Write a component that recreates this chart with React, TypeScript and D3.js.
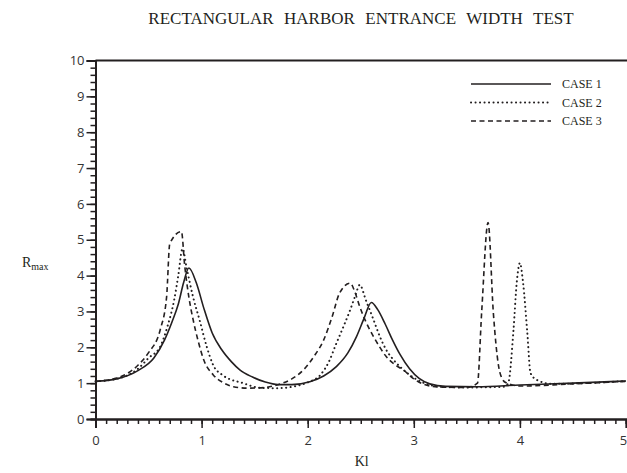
import React, { useEffect, useRef } from 'react'
import * as d3 from 'd3'

// Rmax against Kl for the three entrance widths
const case1: [number, number][] = [
  [0, 1.05], [0.2, 1.12], [0.4, 1.35], [0.55, 1.7], [0.65, 2.2], [0.72, 2.7], [0.78, 3.2],
  [0.83, 3.8], [0.88, 4.21], [0.95, 3.8], [1.02, 3.1], [1.1, 2.4], [1.19, 1.93], [1.28, 1.6],
  [1.36, 1.37], [1.48, 1.17], [1.6, 1.03], [1.72, 0.96], [1.85, 0.96], [2.02, 1.04], [2.15, 1.2],
  [2.27, 1.46], [2.38, 1.85], [2.46, 2.3], [2.53, 2.8], [2.6, 3.25], [2.66, 3.05], [2.73, 2.65],
  [2.8, 2.2], [2.87, 1.8], [2.96, 1.4], [3.05, 1.13], [3.15, 0.98], [3.3, 0.91], [3.6, 0.9],
  [4.0, 0.95], [4.5, 1.0], [5.0, 1.06]
]

const case2: [number, number][] = [
  [0, 1.05], [0.2, 1.12], [0.4, 1.4], [0.5, 1.7], [0.61, 2.02], [0.68, 2.6], [0.74, 3.3],
  [0.78, 4.0], [0.82, 4.75], [0.86, 4.2], [0.92, 3.4], [0.98, 2.77], [1.05, 2.0], [1.11, 1.5],
  [1.2, 1.22], [1.39, 1.0], [1.55, 0.87], [1.7, 0.86], [1.86, 0.9], [2.0, 1.02], [2.12, 1.23],
  [2.2, 1.6], [2.27, 2.11], [2.34, 2.6], [2.4, 3.04], [2.45, 3.45], [2.49, 3.74], [2.55, 3.3],
  [2.62, 2.77], [2.68, 2.3], [2.74, 1.93], [2.8, 1.68], [2.87, 1.46], [2.96, 1.23], [3.1, 1.0],
  [3.25, 0.9], [3.5, 0.88], [3.85, 0.9], [3.89, 1.0], [3.94, 2.5], [3.97, 3.8], [4.0, 4.35],
  [4.03, 3.8], [4.07, 2.4], [4.1, 1.28], [4.16, 1.09], [4.3, 0.98], [4.6, 1.0], [5.0, 1.06]
]

const case3: [number, number][] = [
  [0, 1.05], [0.2, 1.14], [0.4, 1.5], [0.5, 1.85], [0.61, 2.49], [0.67, 3.4], [0.7, 4.89],
  [0.81, 5.23], [0.84, 4.3], [0.88, 3.4], [0.92, 2.77], [0.97, 2.15], [1.02, 1.65], [1.11, 1.23],
  [1.2, 1.02], [1.3, 0.9], [1.44, 0.86], [1.6, 0.88], [1.71, 0.95], [1.85, 1.12], [1.96, 1.37],
  [2.06, 1.75], [2.15, 2.2], [2.23, 2.85], [2.3, 3.51], [2.4, 3.79], [2.45, 3.5], [2.49, 3.14],
  [2.55, 2.7], [2.62, 2.3], [2.68, 2.0], [2.74, 1.74], [2.82, 1.52], [2.9, 1.37], [3.0, 1.12],
  [3.1, 0.96], [3.25, 0.89], [3.5, 0.88], [3.6, 1.0], [3.64, 3.0], [3.7, 5.48], [3.75, 2.95],
  [3.8, 1.46], [3.83, 1.14], [3.87, 1.01], [4.0, 0.92], [4.5, 0.98], [5.0, 1.05]
]

const seriesNames = ['CASE 1', 'CASE 2', 'CASE 3']
const xTicks = [0, 1, 2, 3, 4, 5]
const yTicks = [0, 1, 2, 3, 4, 5, 6, 7, 8, 9, 10]

const ink = '#231f20'
const dashes = [null, '0.1 4.4', '5 3.5']

export default function App() {
  const ref = useRef<SVGSVGElement>(null)

  useEffect(() => {
    const svg = d3.select(ref.current)
    svg.selectAll('*').remove()

    const x = d3.scaleLinear().domain([0, 5]).range([95.5, 626])
    const y = d3.scaleLinear().domain([0, 10]).range([419, 60.5])

    // title
    svg.append('text')
      .attr('x', 361).attr('y', 24)
      .attr('text-anchor', 'middle')
      .attr('font-family', 'Liberation Serif')
      .attr('font-size', 17)
      .attr('fill', ink)
      .style('white-space', 'pre')
      .style('word-spacing', '1px')
      .text('RECTANGULAR  HARBOR  ENTRANCE  WIDTH  TEST')

    // top frame line
    svg.append('line')
      .attr('x1', x(0)).attr('x2', 627)
      .attr('y1', y(10)).attr('y2', y(10))
      .attr('stroke', ink).attr('stroke-width', 2)

    // x axis
    const xAxis = svg.append('g').attr('transform', `translate(0,${y(0)})`)
    xAxis.call(d3.axisBottom(x).ticks(50).tickSize(5).tickFormat(() => ''))
    xAxis.append('g').call(d3.axisBottom(x).tickValues(xTicks).tickSize(9).tickFormat(d3.format('d')))
    xAxis.selectAll('.domain').attr('stroke', ink).attr('stroke-width', 2)
    xAxis.selectAll('.tick line').attr('stroke', ink).attr('stroke-width', 1.5)
    xAxis.selectAll('text')
      .attr('font-family', 'Open Sans').attr('font-size', 13).attr('fill', '#333')
      .attr('dy', '1.05em')
      .attr('dx', (d: any) => (d === 5 ? -3 : 0))

    // y axis
    const yAxis = svg.append('g').attr('transform', `translate(${x(0)},0)`)
    yAxis.call(d3.axisLeft(y).ticks(50).tickSize(5).tickFormat(() => ''))
    yAxis.append('g').call(d3.axisLeft(y).tickValues(yTicks).tickSize(9).tickFormat(d3.format('d')))
    yAxis.selectAll('.domain').attr('stroke', ink).attr('stroke-width', 2)
    yAxis.selectAll('.tick line').attr('stroke', ink).attr('stroke-width', 1.5)
    yAxis.selectAll('text')
      .attr('font-family', 'Open Sans').attr('font-size', 13).attr('fill', '#333')
      .attr('x', -11)

    // axis titles
    const yl = svg.append('text')
      .attr('x', 22).attr('y', 267)
      .attr('font-family', 'Liberation Serif').attr('font-size', 14).attr('fill', ink)
    yl.append('tspan').text('R')
    yl.append('tspan').attr('font-size', 10).attr('dy', 3).text('max')

    svg.append('text')
      .attr('x', x(2.5) + 1).attr('y', 466)
      .attr('text-anchor', 'middle')
      .attr('font-family', 'Liberation Serif').attr('font-size', 14).attr('fill', ink)
      .text('Kl')

    // curves
    const line = d3.line<[number, number]>()
      .x(d => x(d[0])).y(d => y(d[1]))
      .curve(d3.curveMonotoneX)

    const allCases = [case1, case2, case3]
    allCases.forEach((data, i) => {
      svg.append('path')
        .attr('d', line(data))
        .attr('fill', 'none')
        .attr('stroke', ink)
        .attr('stroke-width', i === 1 ? 2 : 1.6)
        .attr('stroke-linecap', i === 1 ? 'round' : 'butt')
        .attr('stroke-dasharray', dashes[i])
    })

    // legend
    const legend = svg.append('g')
    seriesNames.forEach((name, i) => {
      const ly = 84 + i * 18.5
      legend.append('line')
        .attr('x1', 471).attr('x2', 551)
        .attr('y1', ly).attr('y2', ly)
        .attr('stroke', ink)
        .attr('stroke-width', i === 1 ? 2 : 1.6)
        .attr('stroke-linecap', i === 1 ? 'round' : 'butt')
        .attr('stroke-dasharray', dashes[i])
      legend.append('text')
        .attr('x', 562).attr('y', ly + 4)
        .attr('font-family', 'Liberation Serif').attr('font-size', 12).attr('fill', ink)
        .text(name)
    })
  }, [])

  return (
    <svg ref={ref} width={627} height={473}
      style={{ position: 'absolute', left: 0, top: 0, background: '#fff' }} />
  )
}
